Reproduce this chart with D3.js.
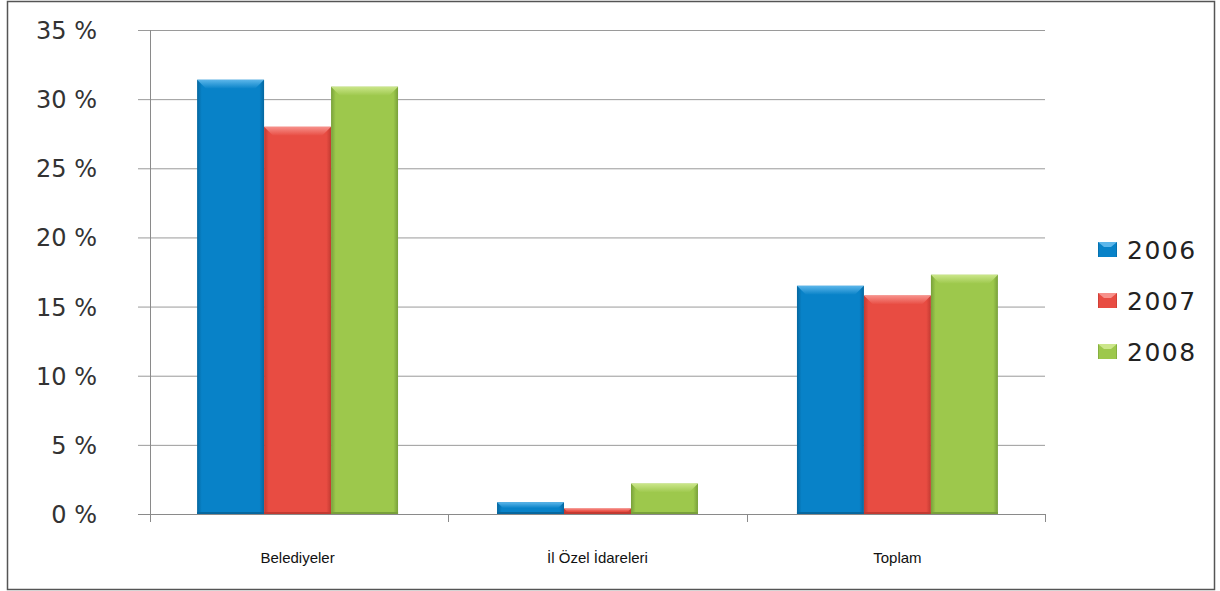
<!DOCTYPE html>
<html><head><meta charset="utf-8">
<script src="https://cdn.jsdelivr.net/npm/d3@7"></script>
<style>body{margin:0;background:#fff}svg{display:block}</style>
</head><body>
<script>
const categories = ["Belediyeler", "İl Özel İdareleri", "Toplam"];
const seriesNames = ["2006", "2007", "2008"];
const v2006 = [31.4, 0.85, 16.5];
const v2007 = [28.0, 0.4, 15.8];
const v2008 = [30.9, 2.2, 17.3];
const yTicks = [0, 5, 10, 15, 20, 25, 30, 35];
const colors = ["#0882c8", "#e84c42", "#9dc84c"];
const darks = ["#05679f", "#c23a31", "#78a03a"];
const lights = ["#5cb6ea", "#f7918b", "#cbe68a"];

const W = 1220, H = 591;
const svg = d3.select("body").append("svg").attr("width", W).attr("height", H);
svg.append("rect").attr("x", 7.5).attr("y", 1.5).attr("width", 1207).attr("height", 588)
  .attr("fill", "#fff").attr("stroke", "#555").attr("stroke-width", 1.5);

const x0 = 150, x1 = 1045, yTop = 30, yBot = 514;
const y = d3.scaleLinear().domain([0, 35]).range([yBot, yTop]);
const xb = d3.scaleBand().domain(categories).range([x0, x1]).paddingInner(0.33).paddingOuter(0.157);
const xs = d3.scaleBand().domain(seriesNames).range([0, xb.bandwidth()]);

const defs = svg.append("defs");
seriesNames.forEach((s, i) => {
  const g = defs.append("linearGradient").attr("id", "g" + i).attr("x1", 0).attr("x2", 1).attr("y1", 0).attr("y2", 0);
  g.append("stop").attr("offset", 0).attr("stop-color", darks[i]);
  g.append("stop").attr("offset", 0.07).attr("stop-color", colors[i]);
  g.append("stop").attr("offset", 0.93).attr("stop-color", colors[i]);
  g.append("stop").attr("offset", 1).attr("stop-color", darks[i]);
  const t = defs.append("linearGradient").attr("id", "t" + i).attr("x1", 0).attr("x2", 0).attr("y1", 0).attr("y2", 1);
  t.append("stop").attr("offset", 0).attr("stop-color", lights[i]);
  t.append("stop").attr("offset", 1).attr("stop-color", colors[i]);
});

// gridlines
svg.append("g").selectAll("line").data(yTicks).join("line")
  .attr("x1", x0 - 12).attr("x2", x1).attr("y1", d => y(d) + 0.5).attr("y2", d => y(d) + 0.5)
  .attr("stroke", d => d === 0 ? "#8a8a8a" : "#9a9a9a").attr("stroke-width", 1);
// y axis line
svg.append("line").attr("x1", x0 + 0.5).attr("x2", x0 + 0.5).attr("y1", yTop).attr("y2", yBot + 8)
  .attr("stroke", "#8a8a8a");
// category ticks
const catTicks = categories.slice(0, -1).map(c => xb(c) + xb.bandwidth() + xb.step() * xb.paddingInner() / 2);
catTicks.push(x1);
svg.append("g").selectAll("line").data(catTicks).join("line")
  .attr("x1", d => Math.round(d) + 0.5).attr("x2", d => Math.round(d) + 0.5)
  .attr("y1", yBot).attr("y2", yBot + 8).attr("stroke", "#8a8a8a");

// y labels
svg.append("g").selectAll("text").data(yTicks).join("text")
  .attr("x", 97).attr("y", d => y(d) + 9).attr("text-anchor", "end")
  .attr("font-family", "DejaVu Sans").attr("font-size", 24).attr("fill", "#333")
  .text(d => d + " %");

// bars
const series = [v2006, v2007, v2008];
series.forEach((vals, i) => {
  const g = svg.append("g");
  const data = categories.map((c, k) => ({c, v: vals[k]}));
  g.selectAll("rect").data(data).join("rect")
    .attr("x", d => xb(d.c) + xs(seriesNames[i]))
    .attr("y", d => y(d.v))
    .attr("width", xs.bandwidth())
    .attr("height", d => yBot - y(d.v))
    .attr("fill", `url(#g${i})`);
  // top bevel
  g.selectAll("path").data(data).join("path")
    .attr("d", d => {
      const bx = xb(d.c) + xs(seriesNames[i]), bw = xs.bandwidth();
      const top = y(d.v), h = Math.min(9, (yBot - top) / 2);
      return `M${bx},${top}L${bx + bw},${top}L${bx + bw - h},${top + h}L${bx + h},${top + h}Z`;
    })
    .attr("fill", `url(#t${i})`);
  // bottom shadow
  g.selectAll("line").data(data).join("line")
    .attr("x1", d => xb(d.c) + xs(seriesNames[i])).attr("x2", d => xb(d.c) + xs(seriesNames[i]) + xs.bandwidth())
    .attr("y1", yBot - 1).attr("y2", yBot - 1).attr("stroke", darks[i]).attr("stroke-width", 2);
});

// category labels
svg.append("g").selectAll("text").data(categories).join("text")
  .attr("x", d => xb(d) + xb.bandwidth() / 2).attr("y", 563).attr("text-anchor", "middle")
  .attr("font-family", "Liberation Sans Narrow, Liberation Sans").attr("font-size", 15).attr("fill", "#111")
  .attr("font-stretch", "condensed")
  .text(d => d);

// legend
const leg = svg.append("g");
seriesNames.forEach((s, i) => {
  const ly = 250 + i * 51;
  leg.append("rect").attr("x", 1098).attr("y", ly - 8).attr("width", 19).attr("height", 15).attr("fill", `url(#g${i})`);
  leg.append("path").attr("d", `M1098,${ly - 8}L1117,${ly - 8}L1111,${ly - 3}L1104,${ly - 3}Z`).attr("fill", lights[i]);
  leg.append("text").attr("x", 1127).attr("y", ly + 9).attr("font-family", "DejaVu Sans").attr("font-size", 25)
    .attr("letter-spacing", 1.5).attr("fill", "#222").text(s);
});
</script>
</body></html>
